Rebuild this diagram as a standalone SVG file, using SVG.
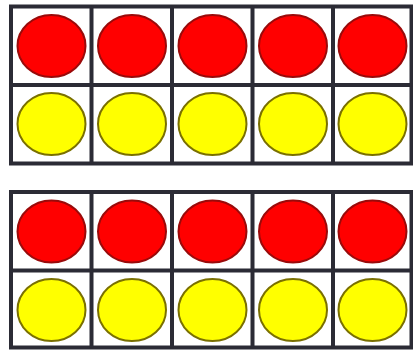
<svg xmlns="http://www.w3.org/2000/svg" xmlns:xlink="http://www.w3.org/1999/xlink" width="413" height="350" viewBox="0 0 413 350">
  <style>
    .frame { fill: #ffffff; stroke: #2b2b35; stroke-width: 4; }
    .line { stroke: #2b2b35; stroke-width: 4; }
    .red { fill: #ff0000; stroke: #9a0a0a; stroke-width: 2; }
    .yellow { fill: #ffff00; stroke: #7a7000; stroke-width: 2; }
  </style>
  <rect width="413" height="350" fill="#ffffff"/>
  <g id="frame-top">
    <rect class="frame" x="11" y="6.5" width="400.5" height="157"/>
    <line class="line" x1="11" y1="85" x2="411.5" y2="85"/>
    <line class="line" x1="91.5" y1="6.5" x2="91.5" y2="163.5"/>
    <line class="line" x1="172" y1="6.5" x2="172" y2="163.5"/>
    <line class="line" x1="252.5" y1="6.5" x2="252.5" y2="163.5"/>
    <line class="line" x1="333" y1="6.5" x2="333" y2="163.5"/>
  </g>
  <g id="counters-top">
    <ellipse class="red" cx="51.5" cy="46" rx="34" ry="31"/>
    <ellipse class="red" cx="132" cy="46" rx="34" ry="31"/>
    <ellipse class="red" cx="212.5" cy="46" rx="34" ry="31"/>
    <ellipse class="red" cx="293" cy="46" rx="34" ry="31"/>
    <ellipse class="red" cx="372.5" cy="46" rx="34" ry="31"/>
    <ellipse class="yellow" cx="51.5" cy="124" rx="34" ry="31"/>
    <ellipse class="yellow" cx="132" cy="124" rx="34" ry="31"/>
    <ellipse class="yellow" cx="212.5" cy="124" rx="34" ry="31"/>
    <ellipse class="yellow" cx="293" cy="124" rx="34" ry="31"/>
    <ellipse class="yellow" cx="372.5" cy="124" rx="34" ry="31"/>
  </g>
  <g id="frame-bottom">
    <rect class="frame" x="11" y="192" width="400.5" height="155.5"/>
    <line class="line" x1="11" y1="270.5" x2="411.5" y2="270.5"/>
    <line class="line" x1="91.5" y1="192" x2="91.5" y2="347.5"/>
    <line class="line" x1="172" y1="192" x2="172" y2="347.5"/>
    <line class="line" x1="252.5" y1="192" x2="252.5" y2="347.5"/>
    <line class="line" x1="333" y1="192" x2="333" y2="347.5"/>
  </g>
  <g id="counters-bottom">
    <ellipse class="red" cx="51.5" cy="231.5" rx="34" ry="31"/>
    <ellipse class="red" cx="132" cy="231.5" rx="34" ry="31"/>
    <ellipse class="red" cx="212.5" cy="231.5" rx="34" ry="31"/>
    <ellipse class="red" cx="293" cy="231.5" rx="34" ry="31"/>
    <ellipse class="red" cx="372.5" cy="231.5" rx="34" ry="31"/>
    <ellipse class="yellow" cx="51.5" cy="310" rx="34" ry="31"/>
    <ellipse class="yellow" cx="132" cy="310" rx="34" ry="31"/>
    <ellipse class="yellow" cx="212.5" cy="310" rx="34" ry="31"/>
    <ellipse class="yellow" cx="293" cy="310" rx="34" ry="31"/>
    <ellipse class="yellow" cx="372.5" cy="310" rx="34" ry="31"/>
  </g>
</svg>
